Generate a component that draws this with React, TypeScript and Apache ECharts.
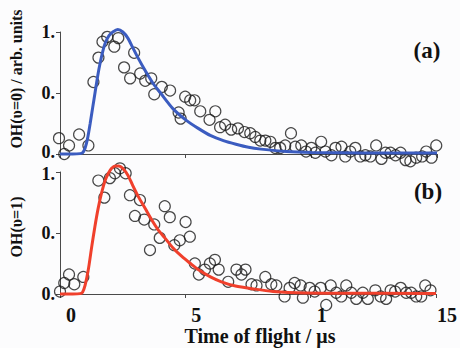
import React, { useEffect, useRef } from "react";
import * as echarts from "echarts";

// Panel (a): OH(v=0) measured points [time µs, intensity]
const dataA: number[][] = [
  [-0.04, 0.13], [0.17, 0.0], [0.36, 0.07], [0.76, 0.16], [1.13, 0.07],
  [1.33, 0.59], [1.53, 0.79], [1.69, 0.92], [1.88, 0.96], [2.16, 0.88],
  [2.32, 0.95], [2.95, 0.83], [2.55, 0.71], [2.79, 0.62], [3.19, 0.66],
  [3.39, 0.6], [3.63, 0.62], [3.75, 0.49], [4.05, 0.55], [4.38, 0.52],
  [4.98, 0.47], [5.18, 0.44], [5.35, 0.44], [4.72, 0.34], [4.8, 0.29],
  [5.58, 0.35], [5.95, 0.28], [6.18, 0.35], [6.37, 0.22], [6.57, 0.24],
  [6.81, 0.2], [7.08, 0.21], [7.34, 0.18], [7.57, 0.17], [7.77, 0.14],
  [7.97, 0.11], [8.17, 0.11], [8.37, 0.1], [8.57, 0.05], [8.76, 0.05],
  [8.96, 0.07], [9.19, 0.17], [9.36, 0.06], [9.6, 0.07], [9.79, 0.02],
  [10.0, 0.05], [10.16, 0.01], [10.39, 0.1], [10.56, 0.02], [10.8, -0.01],
  [10.96, 0.05], [11.2, 0.06], [11.35, -0.02], [11.55, 0.02], [11.75, 0.05],
  [11.95, -0.02], [12.15, -0.01], [12.35, -0.02], [12.58, 0.07], [12.79, -0.04],
  [12.95, 0.01], [13.15, 0.01], [13.35, -0.01], [13.55, 0.01], [13.75, -0.05],
  [13.94, -0.06], [14.17, -0.03], [14.41, -0.02], [14.57, 0.02], [14.78, -0.03],
  [14.97, 0.07],
];

// Panel (a): fitted curve
const fitA: number[][] = [
  [0, 0], [0.5, 0], [0.8, 0.003], [0.9, 0.01], [1.0, 0.05], [1.1, 0.13],
  [1.2, 0.25], [1.3, 0.38], [1.4, 0.51], [1.5, 0.64], [1.6, 0.75],
  [1.7, 0.84], [1.8, 0.91], [1.95, 0.97], [2.1, 1.0], [2.3, 1.02],
  [2.5, 1.0], [2.7, 0.95], [2.9, 0.87], [3.1, 0.79], [3.4, 0.68],
  [3.7, 0.58], [4.0, 0.5], [4.5, 0.37], [5.0, 0.28], [5.5, 0.21],
  [6.0, 0.15], [6.5, 0.11], [7.0, 0.08], [7.5, 0.055], [8.0, 0.04],
  [9.0, 0.02], [10.0, 0.012], [12.0, 0.008], [15.0, 0.008],
];

// Panel (b): OH(v=1) measured points
const dataB: number[][] = [
  [0.0, 0.02], [0.17, 0.09], [0.36, 0.16], [0.57, 0.08], [0.93, 0.14],
  [1.53, 0.93], [1.77, 0.79], [1.99, 0.95], [2.19, 0.99], [2.39, 1.03],
  [2.62, 0.99], [2.79, 0.81], [3.19, 0.77], [2.99, 0.64], [3.36, 0.61],
  [3.76, 0.57], [4.18, 0.72], [4.38, 0.63], [3.98, 0.46], [3.59, 0.36],
  [4.56, 0.4], [4.78, 0.44], [5.01, 0.59], [5.18, 0.47], [5.38, 0.25],
  [5.54, 0.16], [5.78, 0.2], [5.98, 0.25], [6.18, 0.28], [6.33, 0.2],
  [6.71, 0.1], [7.04, 0.2], [7.24, 0.16], [7.4, 0.2], [7.64, 0.08],
  [7.84, 0.07], [8.19, 0.14], [8.43, 0.08], [8.63, 0.07], [8.96, -0.02],
  [9.16, 0.05], [9.36, 0.09], [9.6, 0.07], [9.69, -0.03], [9.96, 0.05],
  [10.16, 0.02], [10.4, 0.05], [10.62, -0.09], [10.8, 0.07], [11.02, 0.01],
  [11.22, -0.02], [11.42, 0.07], [11.62, 0.01], [11.82, -0.04], [12.08, 0.01],
  [12.28, -0.04], [12.58, 0.03], [12.79, -0.02], [13.01, -0.04], [13.19, 0.03],
  [13.37, 0.02], [13.59, 0.05], [13.81, 0.01], [14.01, 0.01], [14.21, -0.02],
  [14.41, -0.02], [14.57, 0.07], [14.78, 0.03],
];

// Panel (b): fitted curve
const fitB: number[][] = [
  [0, 0], [0.5, 0], [0.8, 0.003], [0.9, 0.015], [1.0, 0.07], [1.13, 0.2],
  [1.26, 0.38], [1.39, 0.55], [1.52, 0.7], [1.66, 0.83], [1.8, 0.93],
  [1.93, 0.99], [2.06, 1.03], [2.2, 1.05], [2.35, 1.05], [2.5, 1.03],
  [2.72, 0.97], [2.9, 0.89], [3.12, 0.8], [3.4, 0.7], [3.65, 0.61],
  [3.9, 0.53], [4.18, 0.46], [4.5, 0.38], [4.85, 0.31], [5.2, 0.25],
  [5.51, 0.2], [6.0, 0.14], [6.44, 0.1], [7.0, 0.065], [7.77, 0.04],
  [8.5, 0.02], [9.1, 0.012], [10.5, 0.007], [15.0, 0.005],
];

const xTicks: Record<number, string> = { 0: "0", 5: "5", 10: "1", 15: "15" };
const yTicks: Record<number, string> = { 0: "0.", 0.5: "0.", 1: "1." };

const FONT = "'Liberation Serif', 'Times New Roman', serif";
const AXIS = "#4a4a4a";

export default function App() {
  const ref = useRef<HTMLDivElement>(null);

  useEffect(() => {
    if (!ref.current) return;
    const chart = echarts.init(ref.current, undefined, { renderer: "svg" });

    const xAxisBase = (idx: number, showLabel: boolean) => ({
      type: "value",
      gridIndex: idx,
      min: 0,
      max: 15,
      interval: 5,
      splitLine: { show: false },
      axisLine: { show: true, lineStyle: { color: AXIS, width: 1 } },
      axisTick: { show: true, length: 4, lineStyle: { color: AXIS } },
      axisLabel: {
        show: showLabel,
        formatter: (v: number) => xTicks[v] ?? "",
        fontFamily: FONT,
        fontWeight: "bold",
        fontSize: 20,
        color: "#111",
        margin: 11,
        padding: [0, 0, 0, 22],
      },
    });

    const labelRich = {
      fontFamily: FONT,
      fontWeight: "bold" as const,
      fontSize: 18,
      color: "#111",
    };

    // idx 0: top panel (nudge its "0." up); idx 1: bottom panel (nudge its "1." down)
    const yAxisBase = (idx: number) => ({
      type: "value",
      gridIndex: idx,
      min: 0,
      max: 1,
      interval: 0.5,
      splitLine: { show: false },
      axisLine: { show: true, lineStyle: { color: AXIS, width: 1 } },
      axisTick: { show: true, length: 4, lineStyle: { color: AXIS } },
      axisLabel: {
        formatter: (v: number) => {
          const t = yTicks[v] ?? "";
          if (idx === 0 && v === 0) return `{up|${t}}`;
          if (idx === 1 && v === 1) return `{dn|${t}}`;
          return `{n|${t}}`;
        },
        margin: 5,
        rich: {
          n: { ...labelRich, lineHeight: 16 },
          up: { ...labelRich, lineHeight: 16, padding: [0, 0, 4, 0] },
          dn: { ...labelRich, lineHeight: 16, padding: [4, 0, 0, 0] },
        },
      },
    });

    const scatter = (idx: number, data: number[][]) => ({
      type: "scatter",
      xAxisIndex: idx,
      yAxisIndex: idx,
      data,
      symbol: "circle",
      symbolSize: 11,
      clip: false,
      itemStyle: { color: "rgba(0,0,0,0)", borderColor: "#1a1a1a", borderWidth: 1.2 },
      z: 2,
    });

    const line = (idx: number, data: number[][], color: string) => ({
      type: "line",
      xAxisIndex: idx,
      yAxisIndex: idx,
      data,
      showSymbol: false,
      smooth: 0.25,
      clip: false,
      lineStyle: { color, width: 3 },
      z: 3,
    });

    const textStyle = (fontSize: number) => ({
      fontFamily: FONT,
      fontWeight: "bold",
      fontSize,
      fill: "#111",
      textAlign: "center",
      textVerticalAlign: "middle",
    });

    chart.setOption({
      animation: false,
      backgroundColor: "#fcfcfd",
      grid: [
        { left: 60, top: 32, width: 377, height: 122 },
        { left: 60, top: 172, width: 377, height: 122 },
      ],
      xAxis: [xAxisBase(0, false), xAxisBase(1, true)],
      yAxis: [yAxisBase(0), yAxisBase(1)],
      series: [
        scatter(0, dataA),
        line(0, fitA, "#3b5cc0"),
        scatter(1, dataB),
        line(1, fitB, "#f0402c"),
      ],
      graphic: [
        { type: "text", x: 427, y: 50, style: { text: "(a)", ...textStyle(23) } },
        { type: "text", x: 428, y: 191, style: { text: "(b)", ...textStyle(23) } },
        { type: "text", x: 260, y: 336, style: { text: "Time of flight / μs", ...textStyle(20) } },
        {
          type: "text",
          x: 16,
          y: 79,
          rotation: Math.PI / 2,
          style: { text: "OH(υ=0) / arb. units", ...textStyle(16) },
        },
        {
          type: "text",
          x: 16,
          y: 227,
          rotation: Math.PI / 2,
          style: { text: "OH(υ=1)", ...textStyle(16) },
        },
      ],
    });

    return () => chart.dispose();
  }, []);

  return (
    <div
      ref={ref}
      style={{ position: "fixed", left: 0, top: 0, width: 460, height: 348 }}
    />
  );
}
